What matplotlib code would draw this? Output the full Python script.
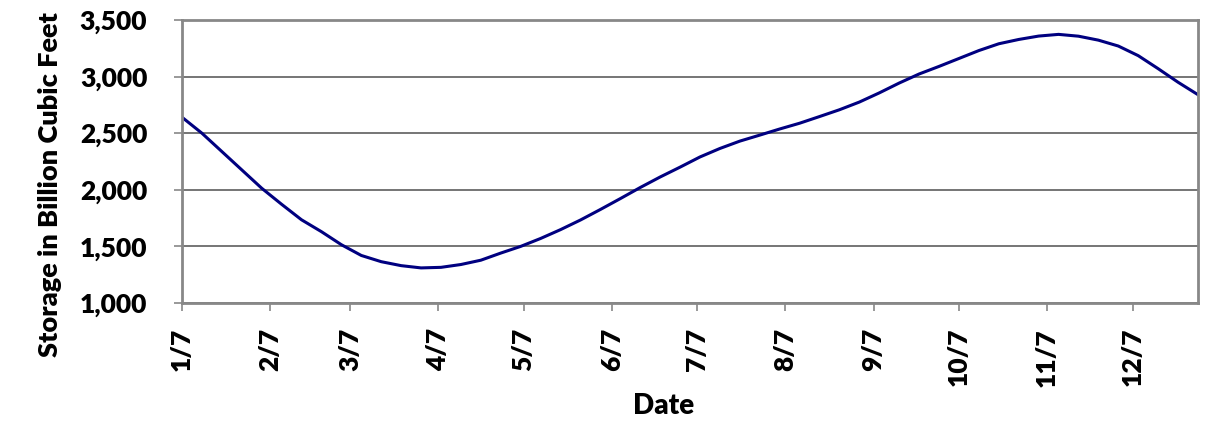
import matplotlib
matplotlib.use("Agg")
import matplotlib.pyplot as plt
import matplotlib.ticker as mticker
import pandas as pd

# Weekly storage (Bcf), starting Jan 7
start_date = "2010-01-07"
storage = [2641, 2500, 2338, 2176, 2014, 1872, 1735, 1630, 1515, 1420,
           1365, 1330, 1310, 1315, 1340, 1378, 1441, 1500, 1570, 1648,
           1733, 1826, 1922, 2020, 2113, 2200, 2290, 2365, 2430, 2483,
           2537, 2588, 2647, 2707, 2775, 2856, 2943, 3023, 3090, 3160,
           3230, 3290, 3328, 3358, 3373, 3357, 3322, 3270, 3185, 3070,
           2950, 2840]
dates = pd.date_range(start_date, periods=len(storage), freq="7D")

tick_dates = pd.to_datetime([f"2010-{m:02d}-07" for m in range(1, 13)])
tick_labels = [f"{m}/7" for m in range(1, 13)]
y_ticks = [1000, 1500, 2000, 2500, 3000, 3500]

plt.rcParams['font.family'] = ['Lato', 'DejaVu Sans']
plt.rcParams['font.weight'] = 'heavy'

fig = plt.figure(figsize=(12.12, 4.26), dpi=100)
ax = fig.add_axes([182/1212, 1-303/426, (1198-182)/1212, (303-20)/426])

ax.plot(dates, storage, color="#000080", lw=2.2, solid_joinstyle='round')

ax.set_xlim(dates[0], dates[-1])
ax.set_ylim(1000, 3500)
ax.set_yticks(y_ticks)
ax.yaxis.set_major_formatter(mticker.FuncFormatter(lambda v, p: f"{int(v):,}"))
ax.set_xticks(tick_dates)
ax.set_xticklabels(tick_labels, rotation=90)

ax.grid(axis='y', color="#505050", lw=1.1)
ax.set_axisbelow(True)
for s in ax.spines.values():
    s.set_color("#888888")
    s.set_linewidth(2)

ax.tick_params(axis='both', length=6, width=1.2, color="#888888", labelsize=19)
ax.tick_params(axis='y', pad=19)
ax.tick_params(axis='x', pad=12)
for lbl in ax.get_xticklabels() + ax.get_yticklabels():
    lbl.set_fontweight('heavy')

ax.set_ylabel("Storage in Billion Cubic Feet", fontsize=19.5, fontweight='heavy')
ax.yaxis.set_label_coords((62 - 182) / 1016, (303 - 185) / 283)
ax.set_xlabel("Date", fontsize=20, fontweight='heavy')
ax.xaxis.set_label_coords((664 - 182) / 1016, (303 - 393) / 283)

fig.savefig("out.png", dpi=100)
